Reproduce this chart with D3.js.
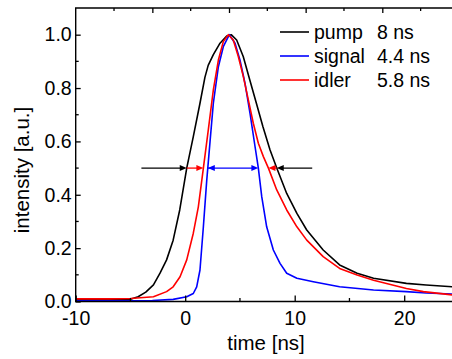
<!DOCTYPE html>
<html>
<head>
<meta charset="utf-8">
<script src="https://cdnjs.cloudflare.com/ajax/libs/d3/7.8.5/d3.min.js"></script>
<style>
  html, body { margin: 0; padding: 0; background: #fff; }
  svg text { font-family: "Liberation Sans", Arial, Helvetica, sans-serif; fill: #000; }
</style>
</head>
<body>
<svg id="chart" width="452" height="359"></svg>
<script>
// pump pulse (black)
const pumpTime = [-10, -8, -6, -5, -4.3, -3.6, -2.9, -2.3, -1.7, -1.1, -0.5, 0.14, 0.74, 1.35, 1.8, 2.1, 2.57, 3.18, 3.79, 4.2,
  4.7, 5.3, 5.9, 6.5, 7.1, 7.75, 8.36, 9.27, 10.2, 11.1, 12.6, 14.1, 15.7, 17.2, 20.2, 22, 24.5];
const pumpIntensity = [0.006, 0.006, 0.007, 0.008, 0.018, 0.035, 0.062, 0.106, 0.156, 0.23, 0.343, 0.5, 0.618, 0.743, 0.84, 0.885, 0.925, 0.968, 0.995, 1.0,
  0.98, 0.918, 0.83, 0.743, 0.655, 0.568, 0.5, 0.405, 0.33, 0.268, 0.193, 0.137, 0.106, 0.087, 0.068, 0.062, 0.055];

// signal pulse (blue)
const signalTime = [-10, -6, -3, -1.1, 0.14, 0.74, 1.05, 1.35, 1.66, 1.96, 2.27, 2.57, 3.03, 3.48, 4.03,
  4.55, 5.0, 5.46, 5.92, 6.38, 6.68, 6.99, 7.44, 8.05, 8.66, 9.27, 10.2, 11.7, 14.1, 17.2, 20.2, 22, 24.5];
const signalIntensity = [0.003, 0.003, 0.004, 0.008, 0.018, 0.03, 0.055, 0.118, 0.28, 0.45, 0.6, 0.743, 0.88, 0.955, 1.0,
  0.968, 0.905, 0.818, 0.705, 0.58, 0.5, 0.393, 0.28, 0.193, 0.143, 0.106, 0.087, 0.074, 0.055, 0.043, 0.037, 0.032, 0.028];

// idler pulse (red)
const idlerTime = [-10, -7, -5, -2.9, -1.7, -1.1, -0.47, 0.14, 0.74, 1.2, 1.66, 2.11, 2.57, 3.03, 3.48, 3.94,
  4.39, 4.85, 5.31, 5.77, 6.22, 6.68, 7.14, 7.6, 8.36, 9.27, 10.2, 11.1, 12.6, 14.1, 15.7, 17.2, 20.2, 21.75, 24.5];
const idlerIntensity = [0.01, 0.01, 0.011, 0.018, 0.037, 0.055, 0.093, 0.156, 0.256, 0.355, 0.5, 0.643, 0.793, 0.905, 0.974, 1.0,
  0.98, 0.918, 0.843, 0.755, 0.668, 0.593, 0.543, 0.5, 0.418, 0.343, 0.28, 0.23, 0.168, 0.124, 0.099, 0.08, 0.049, 0.037, 0.024];

const seriesNames = ['pump', 'signal', 'idler'];
const seriesWidths = ['8 ns', '4.4 ns', '5.8 ns'];
const seriesColors = ['#000000', '#0000ff', '#ff0000'];

const xTicks = [-10, 0, 10, 20];
const xMinorTicks = [-5, 5, 15];
const yTicks = [0, 0.2, 0.4, 0.6, 0.8, 1.0];
const yMinorTicks = [0.1, 0.3, 0.5, 0.7, 0.9];
const topTicks = [-3, 4, 11, 18];
const topMinorTicks = [-6.5, 0.5, 7.5, 14.5, 21.5];

// where the outer black FWHM arrows start
const arrowLeftStart = -4.0;
const arrowRightStart = 11.6;

const svg = d3.select('#chart');
const plotLeft = 75.7, plotRight = 453, plotTop = 8, plotBottom = 301.5;

const x = d3.scaleLinear().domain([-10, -10 + (plotRight - plotLeft) / 10.95]).range([plotLeft, plotRight]);
const y = d3.scaleLinear().domain([0, 1.1]).range([plotBottom, plotTop]);

const series = [
  { t: pumpTime, v: pumpIntensity },
  { t: signalTime, v: signalIntensity },
  { t: idlerTime, v: idlerIntensity }
].map((s, i) => ({
  name: seriesNames[i],
  width: seriesWidths[i],
  color: seriesColors[i],
  points: s.t.map((t, j) => [t, s.v[j]])
}));

svg.append('defs').append('clipPath').attr('id', 'plotclip')
  .append('rect').attr('x', plotLeft).attr('y', plotTop).attr('width', plotRight - plotLeft).attr('height', plotBottom - plotTop);

const line = d3.line().x(d => x(d[0])).y(d => y(d[1]));

// draw pump first, then signal, then idler on top
const plot = svg.append('g').attr('clip-path', 'url(#plotclip)');
plot.selectAll('path.curve')
  .data(series)
  .enter()
  .append('path')
  .attr('class', 'curve')
  .attr('d', d => line(d.points))
  .attr('fill', 'none')
  .attr('stroke', d => d.color)
  .attr('stroke-width', 1.6)
  .attr('stroke-linejoin', 'round');

// half maximum crossings, found from the data
function crossing(points, level, rising) {
  for (let i = 1; i < points.length; i++) {
    const a = points[i - 1], b = points[i];
    if (rising && a[1] < level && b[1] >= level) return a[0] + (level - a[1]) * (b[0] - a[0]) / (b[1] - a[1]);
    if (!rising && a[1] >= level && b[1] < level) return a[0] + (level - a[1]) * (b[0] - a[0]) / (b[1] - a[1]);
  }
}
const half = 0.5;
const cross = series.map(s => [crossing(s.points, half, true), crossing(s.points, half, false)]);

// arrows: [from, to, color, heads at both ends]
const arrows = [
  [arrowLeftStart, cross[0][0], seriesColors[0], false],
  [arrowRightStart, cross[0][1], seriesColors[0], false],
  [cross[0][0], cross[2][0], seriesColors[2], false],
  [cross[0][1], cross[2][1], seriesColors[2], false],
  [cross[1][0], cross[1][1], seriesColors[1], true]
];

const ag = svg.append('g');
function head(xt, dir, color) {
  const yy = y(half);
  ag.append('path')
    .attr('d', `M${xt},${yy}L${xt - dir * 7},${yy - 3}L${xt - dir * 7},${yy + 3}Z`)
    .attr('fill', color);
}
arrows.forEach(a => {
  const x1 = x(a[0]), x2 = x(a[1]);
  const dir = x2 > x1 ? 1 : -1;
  ag.append('line')
    .attr('x1', x1).attr('x2', x2 - dir * 3)
    .attr('y1', y(half)).attr('y2', y(half))
    .attr('stroke', a[2]).attr('stroke-width', 1.3);
  head(x2, dir, a[2]);
  if (a[3]) head(x1, -dir, a[2]);
});

// axes
const axisColor = '#000';
const xAxis = svg.append('g')
  .attr('transform', `translate(0,${plotBottom})`)
  .call(d3.axisBottom(x).tickValues(xTicks).tickSizeInner(-6).tickSizeOuter(0).tickPadding(10).tickFormat(d => String(d)));
const yAxis = svg.append('g')
  .attr('transform', `translate(${plotLeft},0)`)
  .call(d3.axisLeft(y).tickValues(yTicks).tickSizeInner(-5).tickSizeOuter(0).tickPadding(4).tickFormat(d3.format('.1f')));
const topAxis = svg.append('g')
  .attr('transform', `translate(0,${plotTop})`)
  .call(d3.axisTop(x).tickValues(topTicks).tickSizeInner(-5).tickSizeOuter(0).tickFormat(''));

[xAxis, yAxis, topAxis].forEach(g => {
  g.select('.domain').remove();
  g.selectAll('line').attr('stroke', axisColor).attr('stroke-width', 1.3);
  g.selectAll('text').style('font-size', '19.5px').style('font-family', '"Liberation Sans", Arial, sans-serif').attr('fill', '#000');
});

const minor = svg.append('g').attr('stroke', axisColor).attr('stroke-width', 1.3);
minor.selectAll('line.xm').data(xMinorTicks).enter().append('line')
  .attr('x1', d => x(d)).attr('x2', d => x(d)).attr('y1', plotBottom).attr('y2', plotBottom - 3.5);
minor.selectAll('line.tm').data(topMinorTicks).enter().append('line')
  .attr('x1', d => x(d)).attr('x2', d => x(d)).attr('y1', plotTop).attr('y2', plotTop + 3);
minor.selectAll('line.ym').data(yMinorTicks).enter().append('line')
  .attr('x1', plotLeft).attr('x2', plotLeft + 3).attr('y1', d => y(d)).attr('y2', d => y(d));

// frame
svg.append('path')
  .attr('d', `M${plotRight},${plotTop}H${plotLeft}V${plotBottom}H${plotRight}`)
  .attr('fill', 'none').attr('stroke', axisColor).attr('stroke-width', 1.4);

// axis titles
svg.append('text')
  .attr('x', 266).attr('y', 350)
  .attr('text-anchor', 'middle')
  .style('font-size', '20.5px')
  .text('time [ns]');
svg.append('text')
  .attr('transform', 'translate(29,170) rotate(-90)')
  .attr('text-anchor', 'middle')
  .style('font-size', '20.5px')
  .text('intensity [a.u.]');

// legend
const legend = svg.append('g');
const rows = legend.selectAll('g').data(series).enter().append('g')
  .attr('transform', (d, i) => `translate(280,${32 + i * 24})`);
rows.append('line').attr('x1', 0).attr('x2', 29).attr('y1', 0).attr('y2', 0)
  .attr('stroke', d => d.color).attr('stroke-width', 1.6);
rows.append('text').attr('x', 34).attr('y', 6.5).style('font-size', '19.5px').text(d => d.name);
rows.append('text').attr('x', 97).attr('y', 6.5).style('font-size', '19.5px').text(d => d.width);
</script>
</body>
</html>
